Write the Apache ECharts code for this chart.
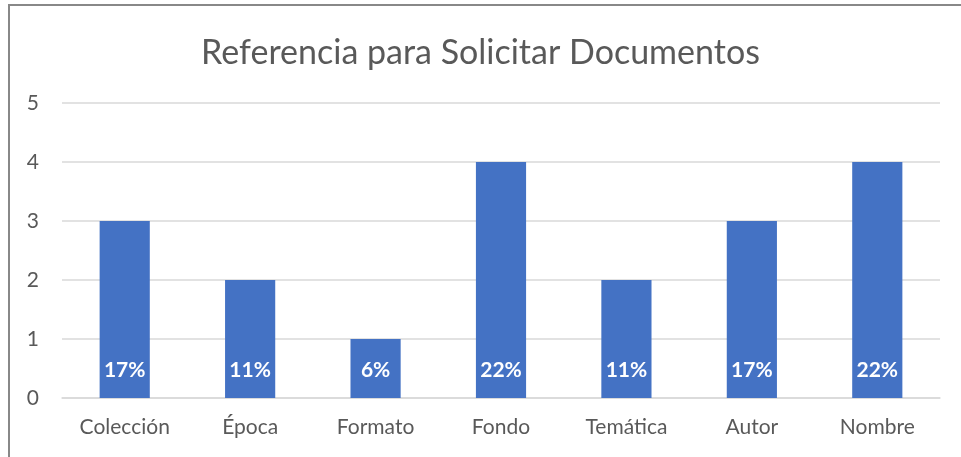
<!DOCTYPE html>
<html>
<head>
<meta charset="utf-8">
<script src="https://cdn.jsdelivr.net/npm/echarts@6/dist/echarts.min.js"></script>
<style>
html,body{margin:0;padding:0;background:#fff;}
#c{width:961px;height:457px;}
</style>
</head>
<body>
<div id="c"></div>
<script>
var categories = ['Colección', 'Época', 'Formato', 'Fondo', 'Temática', 'Autor', 'Nombre'];
var values = [3, 2, 1, 4, 2, 3, 4];
var percentLabels = ['17%', '11%', '6%', '22%', '11%', '17%', '22%'];
var yTicks = [0, 1, 2, 3, 4, 5];

var FONT = 'Lato';
var chart = echarts.init(document.getElementById('c'), null, {renderer: 'canvas'});
chart.setOption({
  animation: false,
  backgroundColor: '#fff',
  textStyle: {fontFamily: FONT},
  title: {
    text: 'Referencia para Solicitar Documentos',
    left: 'center',
    top: 31,
    textStyle: {fontFamily: FONT, fontSize: 34, fontWeight: 'normal', color: '#595959'}
  },
  graphic: [{
    type: 'polyline',
    shape: {points: [[9, 457], [9, 5], [961, 5]]},
    style: {stroke: '#888888', lineWidth: 2, fill: null},
    silent: true
  }],
  grid: {left: 62, right: 21, top: 103, bottom: 59},
  xAxis: {
    type: 'category',
    data: categories,
    axisTick: {show: false},
    axisLine: {show: true, lineStyle: {color: '#d9d9d9', width: 1.5}},
    axisLabel: {color: '#595959', fontSize: 21, fontFamily: FONT, margin: 19}
  },
  yAxis: {
    type: 'value',
    min: yTicks[0],
    max: yTicks[yTicks.length - 1],
    interval: 1,
    axisLine: {show: false},
    axisTick: {show: false},
    splitLine: {lineStyle: {color: '#d9d9d9', width: 1.5}},
    axisLabel: {color: '#595959', fontSize: 21, fontFamily: FONT, margin: 23}
  },
  series: [{
    type: 'bar',
    data: values,
    barWidth: '40%',
    itemStyle: {color: '#4472C4'},
    label: {
      show: true,
      position: 'insideBottom',
      distance: 17,
      color: '#ffffff',
      fontWeight: 'bold',
      fontSize: 21,
      fontFamily: FONT,
      formatter: function (p) { return percentLabels[p.dataIndex]; }
    }
  }]
});
</script>
</body>
</html>
